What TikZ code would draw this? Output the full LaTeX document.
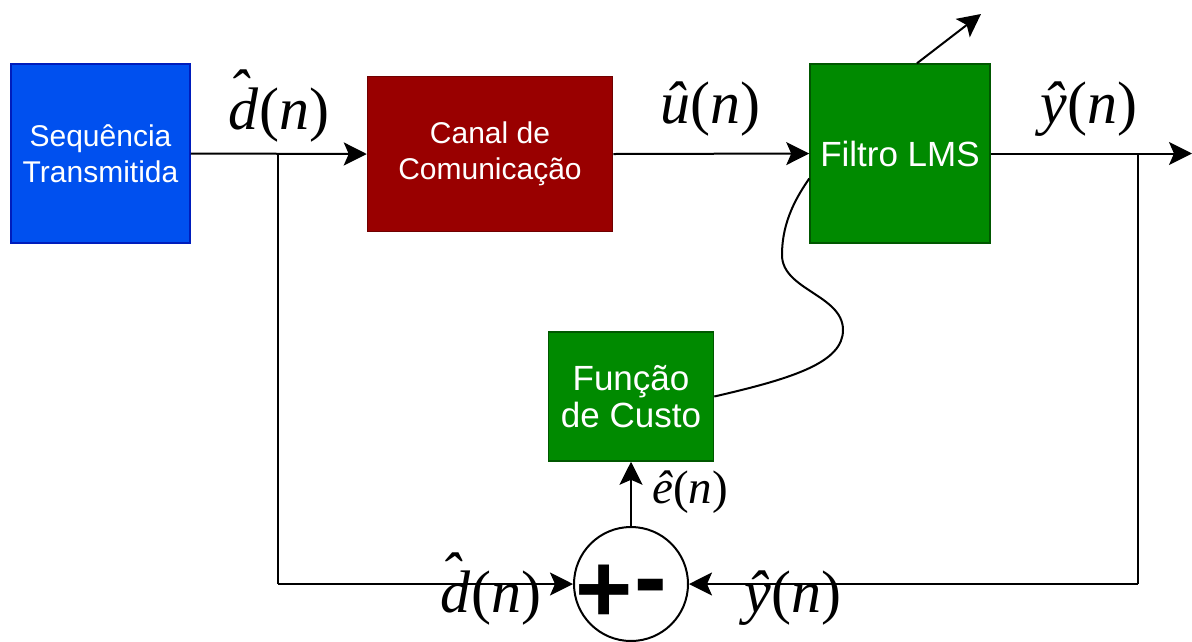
\documentclass[tikz,border=0pt]{standalone}
\usepackage{fontspec}
\setmainfont{Liberation Sans}
\newfontfamily\tms{Liberation Serif}
\usetikzlibrary{arrows.meta,calc}
\definecolor{bluefill}{HTML}{0050EF}
\definecolor{blueline}{HTML}{001DBC}
\definecolor{redfill}{HTML}{990000}
\definecolor{redline}{HTML}{6F0000}
\definecolor{greenfill}{HTML}{008A00}
\definecolor{greenline}{HTML}{005700}
\newcommand{\dhat}{\textit{d}\llap{\raisebox{0.29em}{\textit{ˆ}}\kern0.13em}}
\tikzset{
  blk/.style={draw, line width=1.5pt, text=white, align=center, inner sep=0pt},
  txtA/.style={font=\fontsize{30}{36}\selectfont},
  txtB/.style={font=\fontsize{35}{37}\selectfont},
  ln/.style={line width=2pt},
  arr/.style={line width=2pt, -{Stealth[length=23pt,width=23pt,inset=5pt]}},
  lbl/.style={inner sep=0pt, anchor=base, font=\tms\fontsize{60}{60}\selectfont},
  lbls/.style={inner sep=0pt, anchor=base, font=\tms\fontsize{47}{47}\selectfont},
  sgn/.style={inner sep=0pt, anchor=base, font=\fontsize{98}{98}\selectfont\bfseries}
}
\begin{document}
\begin{tikzpicture}[x=1pt,y=-1pt]
\useasboundingbox (0,0) rectangle (1192,641);
% blocks
\node[blk, txtA, fill=bluefill, draw=blueline, minimum width=179pt, minimum height=179pt] (seq) at (100.5,153.5) {Sequência\\Transmitida};
\node[blk, txtA, fill=redfill, draw=redline, minimum width=245pt, minimum height=155pt] (canal) at (490,154) {Canal de\\Comunicação};
\node[blk, txtB, fill=greenfill, draw=greenline, minimum width=180pt, minimum height=179pt] (lms) at (900,153.5) {Filtro LMS};
\node[blk, txtB, fill=greenfill, draw=greenline, minimum width=165pt, minimum height=129pt] (custo) at (631,396.5) {Função\\de Custo};
\node[draw, circle, line width=2pt, minimum size=114pt, inner sep=0pt] (sum) at (631,584) {};
\node[sgn] (plus) at (604,622) {+};
\node[sgn] (minus) at (651,610) {-};
% coordinates
\coordinate (j1) at (278,153.5);
\coordinate (j2) at (1138,153.5);
\coordinate (c1) at (278,584);
\coordinate (c2) at (1138,584);
\coordinate (out) at (1192,153.5);
\coordinate (tip) at (981,14);
\coordinate (lmsin) at ($(lms.west)+(0,25)$);
\coordinate (lmstop) at ($(lms.north)+(17,0)$);
% connectors
\draw[arr] (seq.east) -- (canal.west);
\draw[arr] (canal.east) -- (lms.west);
\draw[arr] (lms.east) -- (out);
\draw[ln] (j1) -- (c1);
\draw[arr] (c1) -- (sum.west);
\draw[ln] (j2) -- (c2);
\draw[arr] (c2) -- (sum.east);
\draw[arr] (sum.north) -- (custo.south);
\draw[arr] (lmstop) -- (tip);
\draw[ln] (custo.east) .. controls (795,378) and (843,362) .. (843,330)
  .. controls (843,295) and (782,290) .. (782,255)
  .. controls (782,220) and (798,195) .. (lmsin);
% labels
\node[lbl] (ld1) at (279,129) {\dhat(\textit{n})};
\node[lbl] (lu) at (710,123) {\textit{û}(\textit{n})};
\node[lbl] (ly1) at (1089,123) {\textit{ŷ}(\textit{n})};
\node[lbls] (le) at (690,503) {\textit{ê}(\textit{n})};
\node[lbl] (ld2) at (491,612) {\dhat(\textit{n})};
\node[lbl] (ly2) at (793,612) {\textit{ŷ}(\textit{n})};
\end{tikzpicture}
\end{document}
